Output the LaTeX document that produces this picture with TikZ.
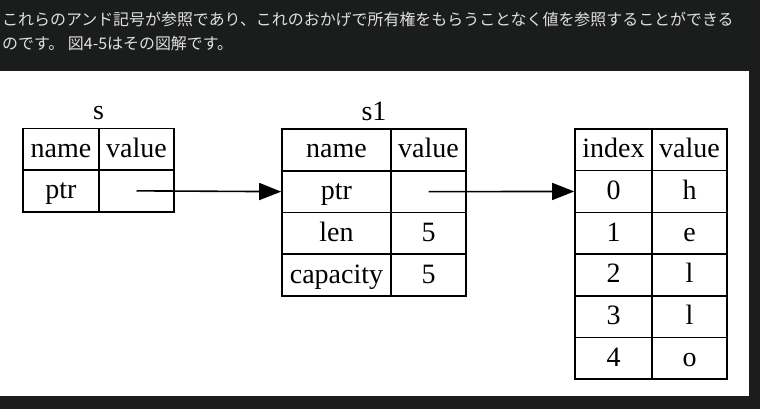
\documentclass[tikz,border=0pt]{standalone}
\usepackage{fontspec}
\setmainfont{Liberation Serif}
\newfontfamily\jpfont{Noto Sans CJK JP}
\usetikzlibrary{matrix,arrows.meta,positioning}
\definecolor{pagebg}{RGB}{27,28,28}
\definecolor{prosegrey}{RGB}{224,224,224}

\begin{document}
\begin{tikzpicture}[x=1pt,y=-1pt,
	cell/.style={draw, line width=1.6pt, inner sep=2pt, minimum height=41.7pt, text height=20pt, text depth=4pt, font=\fontsize{28}{32}\selectfont},
	tbl/.style={matrix of nodes, nodes in empty cells, inner sep=0pt, nodes={cell}, column sep=-1.6pt, row sep=-1.6pt},
	title/.style={inner sep=0pt, font=\fontsize{28}{32}\selectfont},
	ptrarrow/.style={line width=1.6pt, -{Triangle[length=22pt,width=17pt]}},
	prose/.style={anchor=base west, inner sep=0pt, text=prosegrey, font=\jpfont\fontsize{15.95}{20}\selectfont}]
	\useasboundingbox (0,0) rectangle (760,409);
	\fill[pagebg] (0,0) rectangle (760,409);
	\fill[white] (0,71) rectangle (749,396);
	\node[prose] (line1) at (2,26) {これらのアンド記号が参照であり、これのおかげで所有権をもらうことなく値を参照することができる};
	\node[prose] (line2) at (2,50) {のです。 図4-5はその図解です。};
	\matrix (s) at (98.5,170) [tbl, column 1/.style={nodes={minimum width=76pt}}, column 2/.style={nodes={minimum width=75pt}}] {
		name & value \\
		ptr  &       \\
	};
	\matrix (s1) at (374,212.5) [tbl, column 1/.style={nodes={minimum width=109pt}}, column 2/.style={nodes={minimum width=75pt}}] {
		name     & value \\
		ptr      &       \\
		len      & 5     \\
		capacity & 5     \\
	};
	\matrix (heap) at (651,254) [tbl, column 1/.style={nodes={minimum width=77pt}}, column 2/.style={nodes={minimum width=75pt}}] {
		index & value \\
		0     & h     \\
		1     & e     \\
		2     & l     \\
		3     & l     \\
		4     & o     \\
	};
	\node[title, above=7pt of s] (s-title) {s};
	\node[title, above=7pt of s1] (s1-title) {s1};
	\draw[ptrarrow] (s-2-2.center) -- (s1-2-1.west);
	\draw[ptrarrow] (s1-2-2.center) -- (heap-2-1.west);
\end{tikzpicture}
\end{document}
